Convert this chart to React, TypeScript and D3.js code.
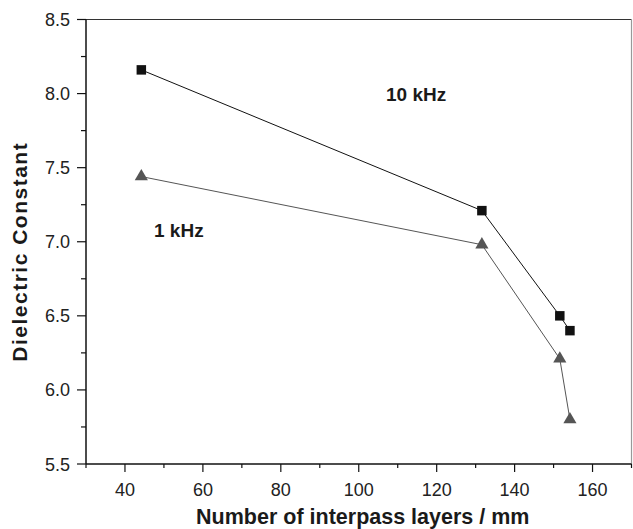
import React from "react";
import { scaleLinear, line, range, symbol, symbolSquare, symbolTriangle } from "d3";

const width = 633;
const height = 529;
const margin = { left: 86, right: 1.5, top: 19.5, bottom: 65 };

const layers = [44.2, 131.6, 151.6, 154.2];
const k10 = [8.16, 7.21, 6.5, 6.4];
const k1 = [7.44, 6.98, 6.21, 5.8];

const xTicks = [40, 60, 80, 100, 120, 140, 160];
const yTicks = [5.5, 6.0, 6.5, 7.0, 7.5, 8.0, 8.5];

const x = scaleLinear()
  .domain([30, 170])
  .range([margin.left, width - margin.right]);
const y = scaleLinear()
  .domain([5.5, 8.5])
  .range([height - margin.bottom, margin.top]);

const path = line<number>()
  .x((d, i) => x(layers[i]))
  .y((d) => y(d));

const square = symbol().type(symbolSquare).size(90)();
const triangle = symbol().type(symbolTriangle).size(75)();

const font = "'Liberation Sans', Arial, Helvetica, sans-serif";

export default function App() {
  const x0 = x.range()[0];
  const x1 = x.range()[1];
  const y0 = y.range()[0];
  const y1 = y.range()[1];
  return (
    <div style={{ position: "absolute", left: 0, top: 0 }}>
      <svg width={width} height={height} style={{ display: "block" }} fontFamily={font}>
        <rect width={width} height={height} fill="white" />
        {/* frame */}
        <line x1={x0} x2={x1} y1={y1} y2={y1} stroke="#333" strokeWidth={1.2} />
        <line x1={x1} x2={x1} y1={y1} y2={y0} stroke="#999" strokeWidth={1.2} />
        <line x1={x0} x2={x1} y1={y0} y2={y0} stroke="#111" strokeWidth={1.5} />
        <line x1={x0} x2={x0} y1={y0} y2={y1} stroke="#111" strokeWidth={1.5} />

        {/* x ticks */}
        {range(30, 171, 10).map((v) => (
          <line
            key={`xt${v}`}
            x1={x(v)}
            x2={x(v)}
            y1={y0}
            y2={y0 + (v % 20 === 0 ? 8 : 4)}
            stroke="#111"
            strokeWidth={1.2}
          />
        ))}
        {xTicks.map((v) => (
          <text key={`xl${v}`} x={x(v)} y={y0 + 32} textAnchor="middle" fontSize={18} fill="#222">
            {v}
          </text>
        ))}

        {/* y ticks */}
        {range(0, 13).map((i) => {
          const v = 5.5 + i * 0.25;
          return (
            <line
              key={`yt${i}`}
              x1={x0 - (i % 2 === 0 ? 9 : 5)}
              x2={x0}
              y1={y(v)}
              y2={y(v)}
              stroke="#111"
              strokeWidth={1.2}
            />
          );
        })}
        {yTicks.map((v) => (
          <text key={`yl${v}`} x={x0 - 16} y={y(v) + 6.5} textAnchor="end" fontSize={18} fill="#222">
            {v.toFixed(1)}
          </text>
        ))}

        {/* series */}
        <path d={path(k10) ?? ""} fill="none" stroke="#111" strokeWidth={1} />
        <path d={path(k1) ?? ""} fill="none" stroke="#555" strokeWidth={1} />
        {k10.map((v, i) => (
          <path key={`s${i}`} d={square ?? ""} transform={`translate(${x(layers[i])},${y(v)})`} fill="#111" />
        ))}
        {k1.map((v, i) => (
          <path key={`t${i}`} d={triangle ?? ""} transform={`translate(${x(layers[i])},${y(v)})`} fill="#555" />
        ))}

        {/* annotations */}
        <text x={386} y={101} fontSize={19} fontWeight="bold" fill="#1a1a1a">
          10 kHz
        </text>
        <text x={154} y={237} fontSize={19} fontWeight="bold" fill="#1a1a1a">
          1 kHz
        </text>

        {/* axis titles */}
        <text
          x={(x0 + x1) / 2 + 4}
          y={height - 5}
          textAnchor="middle"
          fontSize={21.5}
          fontWeight="bold"
          fill="#1a1a1a"
        >
          Number of interpass layers / mm
        </text>
        <text
          transform={`translate(27,${(y0 + y1) / 2 + 10}) rotate(-90)`}
          textAnchor="middle"
          fontSize={21}
          letterSpacing={1.5}
          fontWeight="bold"
          fill="#1a1a1a"
        >
          Dielectric Constant
        </text>
      </svg>
    </div>
  );
}
